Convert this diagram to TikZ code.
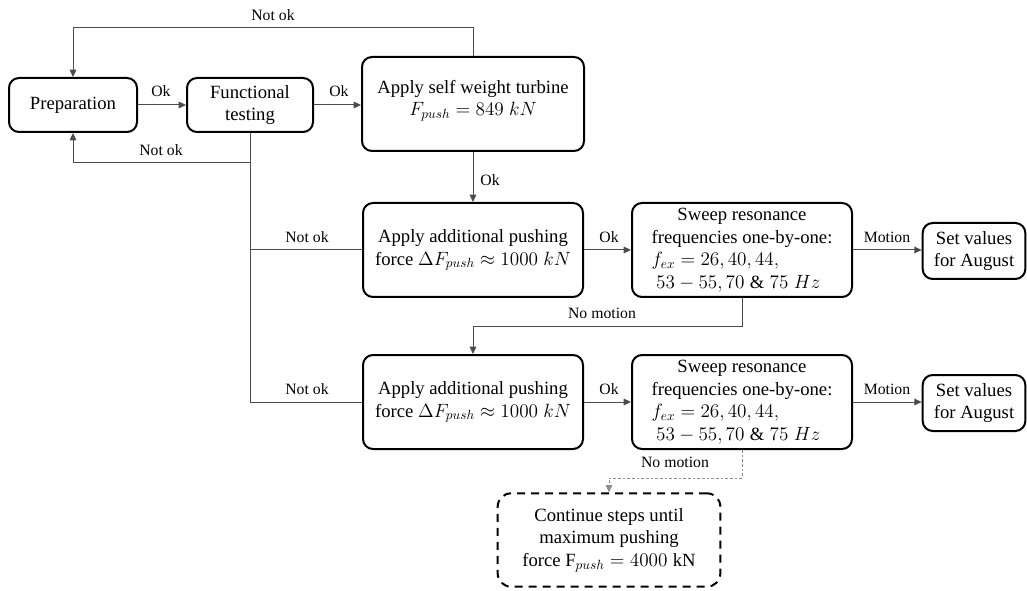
\documentclass[tikz,border=0pt]{standalone}
\usepackage{fontspec}
\setmainfont{Liberation Serif}
\usetikzlibrary{arrows.meta}
\newcommand{\sweeptext}{\begin{tabular}{@{}l@{}}\multicolumn{1}{@{}c@{}}{Sweep resonance}\\ frequencies one-by-one:\\ $f_{ex}=26,40,44,$\\ \ $53-55,70\;\&\;75\;Hz$\end{tabular}}
\begin{document}
\begin{tikzpicture}[x=0.75pt,y=-0.75pt,
  box/.style={draw, line width=1.5pt, rounded corners=7.5pt, align=center, inner sep=0pt,
    font=\fontsize{14}{17}\selectfont},
  smallbox/.style={box, minimum height=40.5pt},
  bigbox/.style={box, minimum width=165pt, minimum height=70.5pt},
  valbox/.style={box, minimum width=77pt, minimum height=42pt},
  dashbox/.style={box, rounded corners=10pt, dash pattern=on 6pt off 4.5pt, minimum width=167pt, minimum height=70pt},
  lbl/.style={font=\fontsize{11.8}{14}\selectfont, inner sep=0pt},
  conn/.style={draw=black!70, line width=0.75pt},
  arr/.style={conn, -{Triangle[length=5.5pt,width=5pt]}},
  dconn/.style={draw=black!45, line width=0.6pt, dash pattern=on 2pt off 1.5pt, -{Triangle[length=5.5pt,width=5pt]}}]
\useasboundingbox (0,0) rectangle (1027,591);

% nodes
\node[smallbox, minimum width=96pt] (prep) at (73,105) {Preparation};
\node[smallbox, minimum width=94.5pt] (ft) at (250,105) {Functional\\testing};
\node[bigbox, minimum width=166.5pt] (sw) at (473,104) {Apply self weight turbine\\$F_{push}=849\;kN$\\[-8pt]\mbox{}};
\node[bigbox] (a1) at (473,250) {Apply additional pushing\\force $\Delta F_{push}\approx 1000\;kN$};
\node[bigbox] (s1) at (742,250) {\sweeptext};
\node[valbox] (v1) at (974,251) {Set values\\for August};
\node[bigbox] (a2) at (473,402) {Apply additional pushing\\force $\Delta F_{push}\approx 1000\;kN$};
\node[bigbox] (s2) at (742,402) {\sweeptext};
\node[valbox] (v2) at (974,403) {Set values\\for August};
\node[dashbox] (c) at (609,540) {Continue steps until\\maximum pushing\\force $\mathrm{F}_{push}=4000\;\mathrm{kN}$};

% helper coordinates
\coordinate (top) at (0,28);
\coordinate (nb) at (0,163);
\coordinate (nm) at (0,327);
\coordinate (nm2) at (0,478);

% connectors
\draw[arr] (prep.east) -- (prep.east -| ft.west);
\node[lbl] at (161,91) {Ok};
\draw[arr] (ft.east) -- (ft.east -| sw.west);
\node[lbl] at (339,91) {Ok};
\draw[arr] (sw.north) -- (sw.north |- top) -- (prep.north |- top) -- (prep.north);
\node[lbl] at (273,15) {Not ok};
\draw[arr] (ft.south) -- (ft.south |- nb) -- (prep.south |- nb) -- (prep.south);
\node[lbl] at (161,150) {Not ok};
\draw[conn] (ft.south |- nb) -- (ft.south |- a2.west) -- (a2.west);
\draw[conn] (ft.south |- a1.west) -- (a1.west);
\node[lbl] at (307,237) {Not ok};
\node[lbl] at (307,389) {Not ok};
\draw[arr] (sw.south) -- (a1.north);
\node[lbl] at (490,180) {Ok};
\draw[arr] (a1.east) -- (s1.west);
\node[lbl] at (609,237) {Ok};
\draw[arr] (s1.east) -- (s1.east -| v1.west);
\node[lbl] at (887,237) {Motion};
\draw[arr] (s1.south) -- (s1.south |- nm) -- (a2.north |- nm) -- (a2.north);
\node[lbl] at (602,313) {No motion};
\draw[arr] (a2.east) -- (s2.west);
\node[lbl] at (609,389) {Ok};
\draw[arr] (s2.east) -- (s2.east -| v2.west);
\node[lbl] at (887,389) {Motion};
\draw[dconn] (s2.south) -- (s2.south |- nm2) -- (c.north |- nm2) -- (c.north);
\node[lbl] at (675,462) {No motion};
\end{tikzpicture}
\end{document}
